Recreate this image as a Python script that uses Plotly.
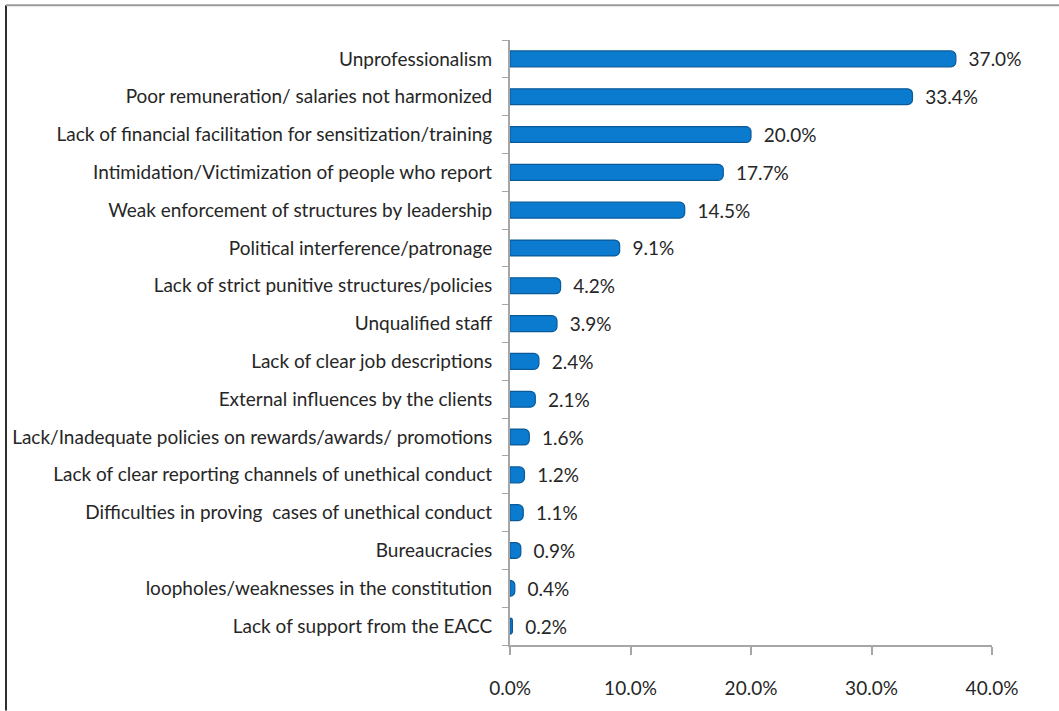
import plotly.graph_objects as go

# Reasons for unethical conduct, share of respondents (%)
categories = [
    "Unprofessionalism",
    "Poor remuneration/ salaries not harmonized",
    "Lack of financial facilitation for sensitization/training",
    "Intimidation/Victimization of people who report",
    "Weak enforcement of structures by leadership",
    "Political interference/patronage",
    "Lack of strict punitive structures/policies",
    "Unqualified staff",
    "Lack of clear job descriptions",
    "External influences by the clients",
    "Lack/Inadequate policies on rewards/awards/ promotions",
    "Lack of clear reporting channels of unethical conduct",
    "Difficulties in proving  cases of unethical conduct",
    "Bureaucracies",
    "loopholes/weaknesses in the constitution",
    "Lack of support from the EACC",
]
values = [37.0, 33.4, 20.0, 17.7, 14.5, 9.1, 4.2, 3.9, 2.4, 2.1, 1.6, 1.2, 1.1, 0.9, 0.4, 0.2]
x_ticks = [0, 10, 20, 30, 40]

W, H = 1059, 711
ML, MR, MT, MB = 510, 67, 40, 60
FONT = "Lato"
FS = 19
TEXT = "#262626"
AXIS = "#A6A6A6"

fig = go.Figure()

# cylinder-style bars
fig.add_trace(go.Bar(
    x=values, y=categories, orientation="h",
    width=0.42,
    marker=dict(color="#0B7BCF", line=dict(color="#0A5A98", width=1.2), cornerradius=5),
    text=["\u00a0\u00a0" + f"{v:.1f}%" for v in values],
    textposition="outside",
    constraintext="none",
    textfont=dict(family=FONT, size=FS, color=TEXT),
    cliponaxis=False,
    hoverinfo="skip",
))

fig.update_layout(
    width=W, height=H,
    margin=dict(l=ML, r=MR, t=MT, b=MB),
    paper_bgcolor="white", plot_bgcolor="white",
    showlegend=False,
    font=dict(family=FONT, size=FS, color=TEXT),
    xaxis=dict(
        range=[0, 40], tickvals=x_ticks,
        ticktext=[f"{t:.1f}%" for t in x_ticks],
        showgrid=False, zeroline=False,
        showline=True, linecolor=AXIS, linewidth=2,
        ticks="outside", ticklen=8, tickcolor=AXIS, tickwidth=2,
        ticklabelstandoff=17,
        tickfont=dict(family=FONT, size=FS, color=TEXT),
    ),
    yaxis=dict(
        categoryorder="array", categoryarray=categories[::-1],
        showgrid=False, zeroline=False,
        showline=True, linecolor=AXIS, linewidth=2,
        ticks="outside", ticklen=6, tickcolor=AXIS, tickwidth=1,
        tickson="boundaries",
        ticklabelstandoff=12,
        tickfont=dict(family=FONT, size=FS, color=TEXT),
    ),
)

# outer chart frame: dark left edge and grey top edge
pw, ph = W - ML - MR, H - MT - MB
fx = (6 - ML) / pw
fy = 1 + (MT - 5) / ph
fig.add_shape(type="line", xref="paper", yref="paper",
              x0=fx, x1=fx, y0=fy, y1=-MB / ph - 0.01,
              line=dict(color="#303030", width=2))
fig.add_shape(type="line", xref="paper", yref="paper",
              x0=fx, x1=(W - ML + 5) / pw, y0=fy, y1=fy,
              line=dict(color="#9A9A9A", width=2))

fig.write_html("out.html")
